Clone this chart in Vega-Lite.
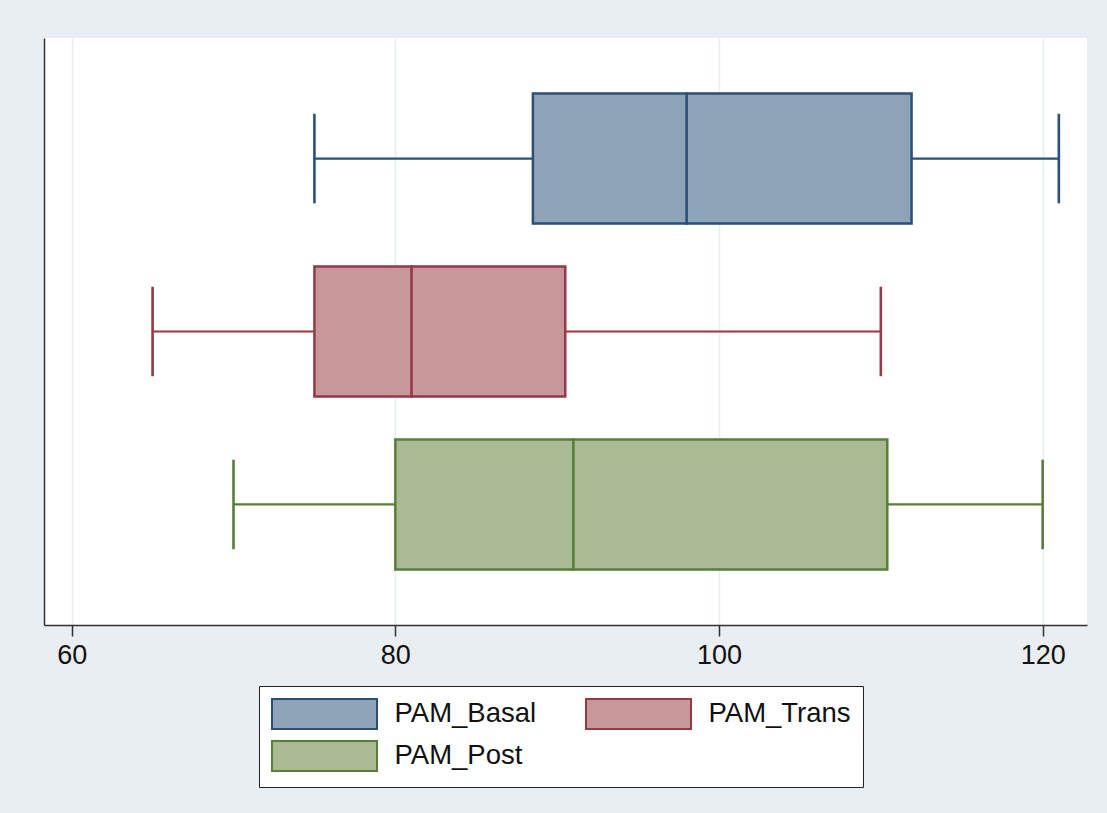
{
  "$schema": "https://vega.github.io/schema/vega-lite/v6.json",
  "autosize": {"type": "none"},
  "width": 1043,
  "height": 587,
  "padding": {"left": 44, "top": 38, "right": 20, "bottom": 188},
  "background": "#e8eef2",
  "config": {
    "view": {"fill": "white", "stroke": null},
    "font": "Liberation Sans",
    "legend": {
      "orient": "none", "legendX": 215, "legendY": 648,
      "title": null, "columns": 2, "direction": "horizontal",
      "symbolType": "M-3.5,-1H3.5V1H-3.5Z", "symbolSize": 900,
      "symbolStrokeWidth": 2, "symbolOffset": 37.5,
      "labelOffset": 54, "labelFontSize": 27.5, "labelColor": "#111111", "labelFont": "Liberation Sans",
      "columnPadding": 45, "rowPadding": 4,
      "padding": 12, "strokeColor": "#222222", "fillColor": "white",
      "labelLimit": 400, "symbolOpacity": 1
    }
  },
  "data": {
    "values": [
      {"series": "PAM_Basal", "lo": 75, "q1": 88.5, "median": 98, "q3": 111.9, "hi": 121},
      {"series": "PAM_Trans", "lo": 65, "q1": 75, "median": 81, "q3": 90.5, "hi": 110},
      {"series": "PAM_Post", "lo": 70, "q1": 80, "median": 91, "q3": 110.4, "hi": 120}
    ]
  },
  "encoding": {
    "y": {
      "field": "series", "type": "nominal",
      "scale": {"type": "point", "domain": ["PAM_Basal", "PAM_Trans", "PAM_Post"], "padding": 0.697},
      "axis": {"labels": false, "ticks": false, "title": null, "grid": false, "domainColor": "#333333", "domainWidth": 1.5}
    },
    "stroke": {
      "field": "series", "type": "nominal",
      "scale": {"domain": ["PAM_Basal", "PAM_Trans", "PAM_Post"], "range": ["#2a4f7a", "#933a45", "#5a7d39"]}
    }
  },
  "layer": [
    {
      "mark": {"type": "rule", "strokeWidth": 2.2},
      "encoding": {
        "x": {
          "field": "lo", "type": "quantitative",
          "scale": {"domain": [58.29, 122.74], "nice": false, "zero": false},
          "axis": {
            "values": [60, 80, 100, 120], "title": null,
            "grid": true, "gridColor": "#e6eef2", "gridWidth": 1.5,
            "domainColor": "#333333", "domainWidth": 1.5,
            "tickColor": "#333333", "tickWidth": 1.5, "tickSize": 11,
            "labelFontSize": 27, "labelColor": "#111111", "labelPadding": 6, "labelFont": "Liberation Sans"
          }
        },
        "x2": {"field": "hi"}
      }
    },
    {
      "mark": {"type": "bar", "size": 130, "strokeWidth": 2.5},
      "encoding": {
        "x": {"field": "q1", "type": "quantitative"},
        "x2": {"field": "q3"},
        "fill": {
          "field": "series", "type": "nominal",
          "scale": {"domain": ["PAM_Basal", "PAM_Trans", "PAM_Post"], "range": ["#8ea3b7", "#c8979a", "#aabb94"]}
        }
      }
    },
    {
      "mark": {"type": "tick", "size": 130, "thickness": 0.1, "strokeWidth": 2.5, "filled": false, "opacity": 1},
      "encoding": {"x": {"field": "median", "type": "quantitative"}}
    },
    {
      "mark": {"type": "tick", "size": 87, "thickness": 0.1, "strokeWidth": 2.5, "filled": false, "opacity": 1},
      "encoding": {"x": {"field": "lo", "type": "quantitative"}}
    },
    {
      "mark": {"type": "tick", "size": 87, "thickness": 0.1, "strokeWidth": 2.5, "filled": false, "opacity": 1},
      "encoding": {"x": {"field": "hi", "type": "quantitative"}}
    }
  ]
}
